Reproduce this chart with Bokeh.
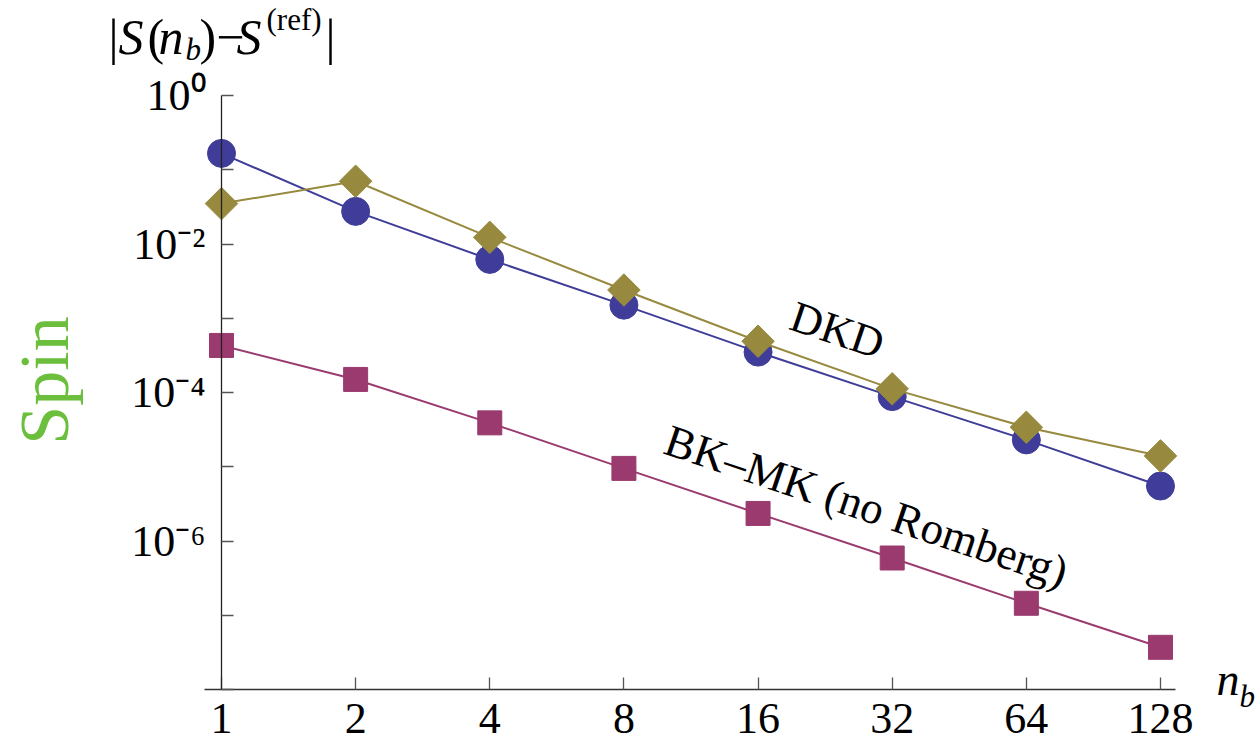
from bokeh.plotting import figure
from bokeh.models import Range1d, FixedTicker, Label
from bokeh.embed import file_html
from bokeh.resources import INLINE
import math

# ---- data ----
nb = [1, 2, 4, 8, 16, 32, 64, 128]
circle_series = [0.166, 0.0275, 0.0062, 0.0015, 3.5e-4, 8.8e-5, 2.3e-5, 5.5e-6]
diamond_series = [0.035, 0.07, 0.0123, 0.0024, 4.9e-4, 1.12e-4, 3.4e-5, 1.4e-5]
bkmk_series = [4.3e-4, 1.5e-4, 3.9e-5, 9.5e-6, 2.35e-6, 5.9e-7, 1.45e-7, 3.7e-8]

x_ticks = [1, 2, 4, 8, 16, 32, 64, 128]
x_tick_labels = ["1", "2", "4", "8", "16", "32", "64", "128"]
y_ticks = [1e0, 1e-1, 1e-2, 1e-3, 1e-4, 1e-5, 1e-6, 1e-7, 1e-8]
y_tick_labels = ["10\u2070", "", "10\u207b\u00b2", "", "10\u207b\u2074", "", "10\u207b\u2076", "", ""]

dkd_label = "DKD"
bkmk_label = "BK\u2013MK (no Romberg)"
dkd_pos = (24.1, 6.9e-4)
bkmk_pos = (28.0, 2.95e-6)

BLUE = "#3f3d99"
GOLD = "#978a3f"
PURPLE = "#9a3a6e"
GREEN = "#6cbf3c"
FONT = "Liberation Serif"

W, H = 1258, 748
X0PX, XSTEP = 221.0, 134.14      # pixel of n_b=1, pixels per doubling
Y0PX, YSTEP = 95.0, 74.25        # pixel of 10^0, pixels per decade
BASE_SHIFT = 0.45                # empirical baseline correction (em), horizontal text
BASE_SHIFT_V = 0.27              # same, for vertical text


def px2x(px):
    return 2 ** ((px - X0PX) / XSTEP)


def py2y(py):
    return 10 ** (-(py - Y0PX) / YSTEP)


# the frame covers the whole canvas; axes are drawn at fixed locations
p = figure(width=W, height=H, x_axis_type="log", y_axis_type="log",
           x_range=Range1d(px2x(0), px2x(W)), y_range=Range1d(py2y(H), py2y(0)),
           output_backend="svg", toolbar_location=None, title_location=None,
           min_border=0, min_border_left=0, min_border_right=0,
           min_border_top=0, min_border_bottom=0)
p.outline_line_color = None
p.xgrid.visible = False
p.ygrid.visible = False
p.background_fill_color = "white"
p.border_fill_color = "white"

# x axis
xa = p.xaxis[0]
xa.fixed_location = 1e-8
xa.bounds = (px2x(204), px2x(1175))
xa.ticker = FixedTicker(ticks=x_ticks)
xa.major_label_overrides = {float(t): l for t, l in zip(x_ticks, x_tick_labels)}
xa.axis_line_color = "#333333"
xa.axis_line_width = 1.3
xa.major_tick_in = 12
xa.major_tick_out = 0
xa.major_tick_line_color = "#555555"
xa.major_tick_line_width = 1.3
xa.minor_tick_line_color = None
xa.major_label_text_font = FONT
xa.major_label_text_font_size = "44px"
xa.major_label_text_color = "black"
xa.major_label_standoff = 14

# y axis at n_b = 1
ya = p.yaxis[0]
ya.fixed_location = 1
ya.bounds = (1e-8, 1.0)
ya.ticker = FixedTicker(ticks=y_ticks)
ya.major_label_overrides = {float(t): l for t, l in zip(y_ticks, y_tick_labels)}
ya.axis_line_color = "#222222"
ya.axis_line_width = 1.3
ya.major_tick_in = 12
ya.major_tick_out = 0
ya.major_tick_line_color = "#555555"
ya.major_tick_line_width = 1.3
ya.minor_tick_line_color = None
ya.major_label_text_font = FONT
ya.major_label_text_font_size = "44px"
ya.major_label_text_color = "black"
ya.major_label_standoff = 16

# series
p.line(nb, circle_series, line_color=BLUE, line_width=2)
p.scatter(nb, circle_series, marker="circle", size=28, fill_color=BLUE, line_color=BLUE)
p.line(nb, diamond_series, line_color=GOLD, line_width=2)
p.scatter(nb, diamond_series, marker="square", angle=math.pi / 4, size=23,
          fill_color=GOLD, line_color=GOLD)
p.line(nb, bkmk_series, line_color=PURPLE, line_width=2)
p.scatter(nb, bkmk_series, marker="square", size=24, fill_color=PURPLE, line_color=PURPLE)

ang = -0.325
p.add_layout(Label(x=dkd_pos[0], y=dkd_pos[1], text=dkd_label, angle=ang,
                   text_align="center", text_baseline="middle",
                   text_font=FONT, text_font_size="44px", text_color="black"))
p.add_layout(Label(x=bkmk_pos[0], y=bkmk_pos[1], text=bkmk_label, angle=ang,
                   text_align="center", text_baseline="middle",
                   text_font=FONT, text_font_size="45px", text_color="black"))


def slabel(px, py, text, size, style="normal", color="black", vertical=False,
           align="left"):
    # (px, py): desired baseline anchor in canvas pixels
    if vertical:
        px, angle = px - BASE_SHIFT_V * size, math.pi / 2
    else:
        py, angle = py - BASE_SHIFT * size, 0.0
    p.add_layout(Label(x=px2x(px), y=py2y(py), text=text, text_font=FONT,
                       text_font_size=f"{size}px", text_font_style=style,
                       text_color=color, angle=angle,
                       text_align=align, text_baseline="alphabetic"))


# y-axis title |S(n_b)-S^(ref)|
slabel(108, 59, "|", 50)
slabel(118, 59, "S", 50, "italic")
slabel(147, 59, "(", 50)
slabel(158, 59, "n", 50, "italic")
slabel(185, 63, "b", 31, "italic")
slabel(199, 59, ")\u2212", 50)
slabel(236, 59, "S", 50, "italic")
slabel(266, 33, "(ref)", 31)
slabel(325, 59, "|", 50)

# x-axis title n_b
slabel(1216, 700, "n", 46, "italic")
slabel(1239, 710, "b", 31, "italic")

# side label
slabel(63, 380, "Spin", 70, color=GREEN, vertical=True, align="center")

open("out.html", "w").write(file_html(p, INLINE))
